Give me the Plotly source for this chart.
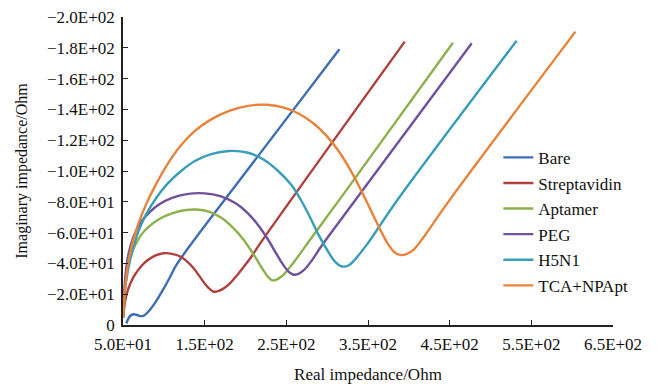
import plotly.graph_objects as go

# ---- data (Real Z / Ohm, Imag Z / Ohm) ----
bare_x = [54, 56, 59, 63, 67, 71, 75, 79, 84, 90, 98, 107, 116, 200, 315]
bare_y = [-1, -3.5, -6, -7, -6.5, -5.8, -6, -7.5, -10.5, -15, -22, -30.5, -39.5, -99, -179]

strep_x = [50.5, 51.2, 52.5, 55, 59, 65, 72, 80, 90, 100, 110, 120, 129, 137, 144, 150, 156, 161, 166, 172, 180, 190, 198, 208, 218, 395]
strep_y = [-5, -10, -15, -21, -27, -33, -38, -42, -45.2, -46.6, -46.2, -44.5, -41, -36.5, -31.4, -27, -23.5, -21.6, -22, -23.3, -26.5, -32.5, -37.9, -45, -53, -184]

apt_x = [50.5, 51.2, 52.5, 55, 59, 65, 73, 83, 95, 110, 125, 140, 156, 171, 184, 196, 206, 215, 222, 228, 233, 238, 244, 252, 263, 280, 320, 454]
apt_y = [-5, -15, -25, -35, -44, -52, -59, -64.5, -69, -72.5, -74.5, -75, -73.5, -69.5, -63.5, -56.5, -49, -41.5, -35.5, -31, -29, -29.5, -31.5, -36, -43.5, -56, -85, -183.3]

peg_x = [50.5, 51.2, 52.5, 55, 59, 65, 73, 83, 95, 110, 128, 150, 170, 188, 203, 216, 227, 237, 245, 252, 258, 264, 271, 280, 292, 333, 477]
peg_y = [-5, -17, -29, -41, -51, -60, -67.5, -73.5, -78.5, -82.5, -85, -85.5, -83.5, -79, -72.5, -64.5, -56, -47, -40, -35, -32.8, -33, -35.5, -41, -50.5, -80, -183]

h5_x = [50.5, 51.5, 53.5, 57, 62, 69, 78, 90, 104, 120, 138, 158, 180, 202, 222, 240, 256, 268, 279, 290, 300, 309, 318, 327, 337, 349, 361, 386, 532]
h5_y = [-5, -16, -27, -38, -49, -61, -71.5, -82, -91.5, -99.5, -106.5, -111, -113, -112, -107.5, -100, -91, -81, -70, -58, -48.7, -41.5, -38, -39, -44.4, -52.5, -61.7, -81.2, -184.6]

tca_x = [50.5, 51.5, 53.5, 57, 62, 69, 78, 90, 104, 120, 138, 158, 180, 203, 226, 248, 266, 283, 299, 314, 328, 341, 353, 364, 374, 382, 389, 397, 406, 418, 447, 604]
tca_y = [-5, -17, -29, -42, -54, -66, -78, -91, -104, -116, -126, -133.5, -139, -142.3, -143, -141, -137, -131, -123, -113, -101, -88, -75, -63, -53, -47.5, -45.5, -46, -49, -57, -79, -190.5]

series_names = ["Bare", "Streptavidin", "Aptamer", "PEG", "H5N1", "TCA+NPApt"]
series_colors = ["#3E6EB4", "#B0403D", "#8CB04C", "#6F529B", "#3A9DB8", "#E8833A"]

x_tickvals = [50, 150, 250, 350, 450, 550, 650]
x_ticktext = ["5.0E+01", "1.5E+02", "2.5E+02", "3.5E+02", "4.5E+02", "5.5E+02", "6.5E+02"]
y_tickvals = [0, -20, -40, -60, -80, -100, -120, -140, -160, -180, -200]
y_ticktext = ["0", "\u22122.0E+01", "\u22124.0E+01", "\u22126.0E+01", "\u22128.0E+01", "\u22121.0E+02",
              "\u22121.2E+02", "\u22121.4E+02", "\u22121.6E+02", "\u22121.8E+02", "\u22122.0E+02"]

xs = [bare_x, strep_x, apt_x, peg_x, h5_x, tca_x]
ys = [bare_y, strep_y, apt_y, peg_y, h5_y, tca_y]

FONT = "Liberation Serif"

fig = go.Figure()
for name, color, x, y in zip(series_names, series_colors, xs, ys):
    fig.add_trace(go.Scatter(
        x=x, y=y, name=name, mode="lines",
        line=dict(color=color, width=2.4, shape="spline", smoothing=1.0),
        legendgroup=name,
    ))

# the page body adds an 8px offset, so the figure is sized 651x378
fig.update_layout(
    width=651, height=378,
    margin=dict(l=114.5, r=46.3, t=9, b=61, autoexpand=False),
    paper_bgcolor="white", plot_bgcolor="white",
    font=dict(family=FONT, size=17, color="#111111"),
    showlegend=True,
    legend=dict(
        x=0.766, y=0.335, xanchor="left", yanchor="middle",
        bgcolor="rgba(255,255,255,0)", borderwidth=0,
        font=dict(family=FONT, size=17, color="#111111"),
        tracegroupgap=0.5, itemwidth=30,
    ),
    xaxis=dict(
        range=[50, 650], tickvals=x_tickvals, ticktext=x_ticktext,
        showline=True, linecolor="#222222", linewidth=1.6,
        ticks="inside", ticklen=5, tickwidth=1.3, tickcolor="#222222",
        showgrid=False, zeroline=False, automargin=False,
        ticklabeloverflow="allow", ticklabelstandoff=3,
        title=dict(text="Real impedance/Ohm", font=dict(family=FONT, size=17)),
    ),
    yaxis=dict(
        range=[0, -200], tickvals=y_tickvals, ticktext=y_ticktext,
        showline=True, linecolor="#222222", linewidth=1.6,
        ticks="inside", ticklen=5, tickwidth=1.3, tickcolor="#222222",
        showgrid=False, zeroline=False, automargin=False,
        ticklabeloverflow="allow", ticklabelstandoff=3,
        title=dict(text="Imaginary impedance/Ohm", font=dict(family=FONT, size=16)),
    ),
)

fig.write_html("out.html")
